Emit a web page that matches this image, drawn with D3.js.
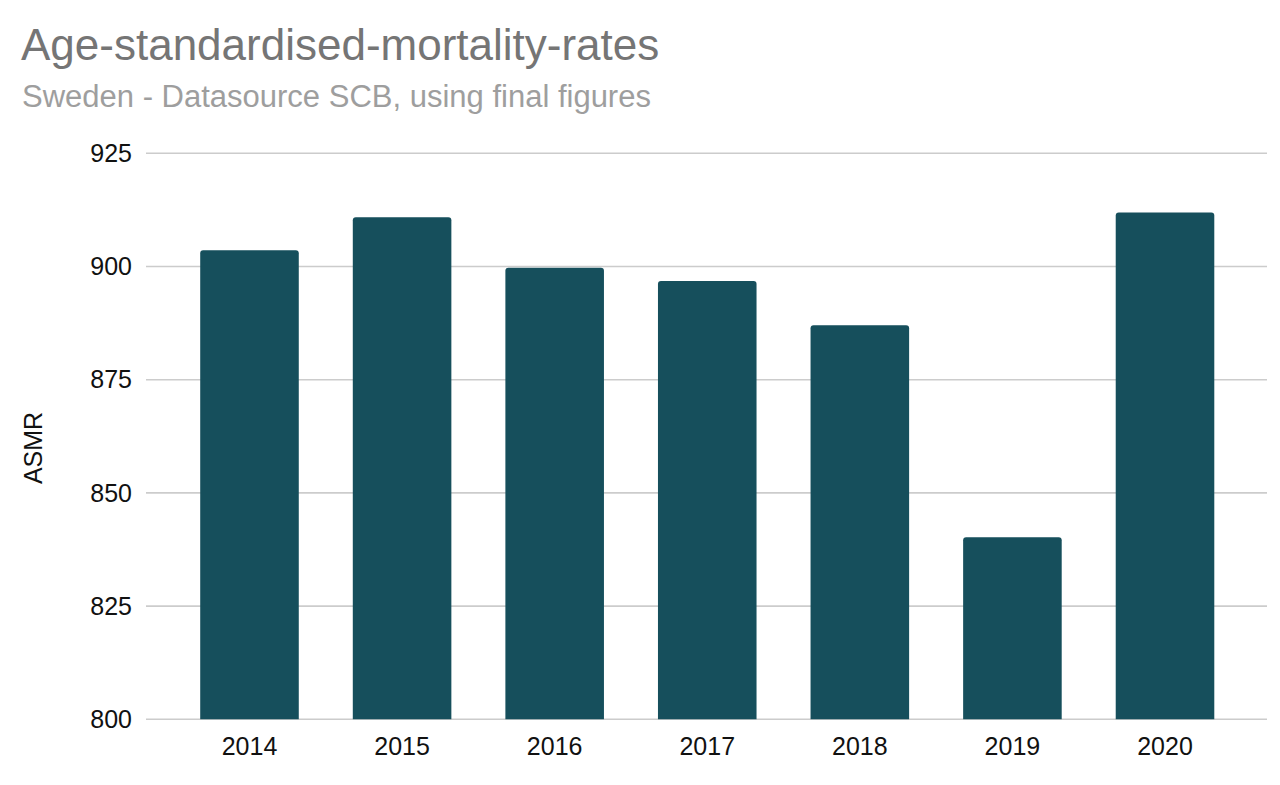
<!DOCTYPE html>
<html lang="en">
  <head>
    <meta charset="UTF-8" />
    <title>Age-standardised-mortality-rates</title>
    <script src="https://d3js.org/d3.v7.min.js"></script>
    <style>
      body {
        margin: 0;
        background: #ffffff;
        font-family: 'Liberation Sans', Arial, sans-serif;
      }
      svg {
        display: block;
      }
      .title {
        font-size: 44px;
        fill: #757575;
      }
      .subtitle {
        font-size: 31px;
        fill: #9e9e9e;
      }
      .tick-label {
        font-size: 25px;
        fill: #111;
      }
      .axis-title {
        font-size: 25px;
        fill: #111;
      }
    </style>
  </head>
  <body>
    <svg width="1280" height="785"></svg>

    <script>
      // data
      const years = ['2014', '2015', '2016', '2017', '2018', '2019', '2020'];
      const asmr = [903.6, 910.9, 899.7, 896.8, 887.0, 840.2, 911.9];
      const yTicks = [800, 825, 850, 875, 900, 925];

      const width = 1280,
        height = 785;

      const svg = d3.select('svg').attr('viewBox', `0 0 ${width} ${height}`);

      const gridLeft = 146,
        gridRight = 1267;

      const x = d3
        .scaleBand()
        .domain(years)
        .range([173.2, 1241.3])
        .paddingInner(0.354)
        .paddingOuter(0.177);

      const y = d3.scaleLinear().domain([800, 925]).range([719.3, 153.3]);

      // titles
      svg
        .append('text')
        .attr('class', 'title')
        .attr('x', 21)
        .attr('y', 60)
        .text('Age-standardised-mortality-rates');

      svg
        .append('text')
        .attr('class', 'subtitle')
        .attr('x', 22)
        .attr('y', 107)
        .text('Sweden - Datasource SCB, using final figures');

      // gridlines
      svg
        .append('g')
        .selectAll('line')
        .data(yTicks)
        .join('line')
        .attr('x1', gridLeft)
        .attr('x2', gridRight)
        .attr('y1', (d) => y(d))
        .attr('y2', (d) => y(d))
        .attr('stroke', '#cccccc')
        .attr('stroke-width', 1.6);

      // y tick labels
      svg
        .append('g')
        .selectAll('text')
        .data(yTicks)
        .join('text')
        .attr('class', 'tick-label')
        .attr('x', 132)
        .attr('y', (d) => y(d))
        .attr('dy', '0.35em')
        .attr('text-anchor', 'end')
        .text((d) => d);

      // bars with rounded top corners
      const r = 3;
      function barPath(d, i) {
        const x0 = x(years[i]),
          x1 = x0 + x.bandwidth(),
          y0 = y(800),
          y1 = y(d);
        return `M${x0},${y0}V${y1 + r}Q${x0},${y1} ${x0 + r},${y1}H${x1 - r}Q${x1},${y1} ${x1},${y1 + r}V${y0}Z`;
      }

      svg
        .append('g')
        .selectAll('path')
        .data(asmr)
        .join('path')
        .attr('d', barPath)
        .attr('fill', '#164f5c');

      // x labels
      svg
        .append('g')
        .selectAll('text')
        .data(years)
        .join('text')
        .attr('class', 'tick-label')
        .attr('x', (d) => x(d) + x.bandwidth() / 2)
        .attr('y', 755)
        .attr('text-anchor', 'middle')
        .text((d) => d);

      // y axis title
      svg
        .append('text')
        .attr('class', 'axis-title')
        .attr('transform', 'translate(42, 448) rotate(-90)')
        .attr('text-anchor', 'middle')
        .text('ASMR');
    </script>
  </body>
</html>
